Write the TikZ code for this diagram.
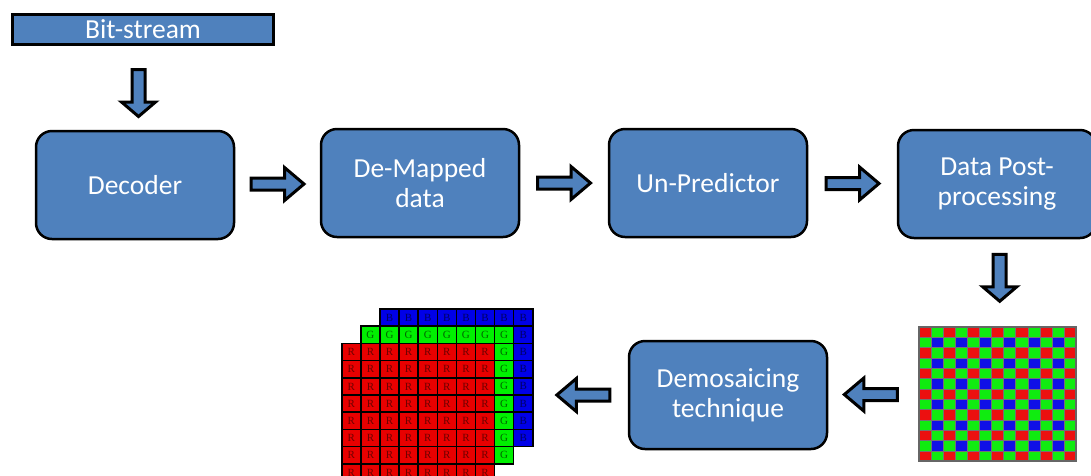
\documentclass[tikz,border=0pt]{standalone}
\usepackage{fontspec}
\setmainfont{Carlito}
\newfontfamily\cellfont{Liberation Serif}
\usetikzlibrary{calc}

\definecolor{boxblue}{RGB}{79,129,189}
% Bayer mosaic colours: 0 = red, 1/2 = green, 3 = blue
\definecolor{bayer0}{RGB}{236,16,16}
\definecolor{bayer1}{RGB}{16,236,16}
\definecolor{bayer2}{RGB}{16,236,16}
\definecolor{bayer3}{RGB}{16,16,230}
% colour planes after demosaicing
\definecolor{planeR}{RGB}{232,0,0}
\definecolor{planeG}{RGB}{0,240,0}
\definecolor{planeB}{RGB}{0,0,232}
\definecolor{letR}{RGB}{110,0,0}
\definecolor{letG}{RGB}{0,100,0}
\definecolor{letB}{RGB}{0,0,100}

\tikzset{
  stage/.style={draw=black, line width=2.5pt, fill=boxblue, rounded corners=16pt,
    minimum width=198pt, minimum height=108pt, text=white, align=center,
    font=\fontsize{27.5}{30.5}\selectfont, inner sep=0pt},
  source/.style={draw=black, line width=3.5pt, fill=boxblue, minimum width=261pt,
    minimum height=30pt, text=white, font=\fontsize{27.5}{29}\selectfont, inner sep=0pt},
  blockarrow/.style={draw=black, line width=3pt, fill=boxblue, line join=miter},
  rarrow/.pic={\draw[blockarrow] (-26.5,-6) -- (7,-6) -- (7,-16.5) -- (26.5,0)
      -- (7,16.5) -- (7,6) -- (-26.5,6) -- cycle;},
  darrow/.pic={\draw[blockarrow] (-6.5,-23.5) -- (6.5,-23.5) -- (6.5,9) -- (17,9)
      -- (0,23.5) -- (-17,9) -- (-6.5,9) -- (-6.5,-23.5) -- cycle;},
  cell/.style={draw=black, line width=1.5pt, minimum width=19.1pt, minimum height=17.2pt,
    inner sep=0pt, font=\cellfont\fontsize{11}{11}\selectfont},
  pixel/.style={draw=black!55, line width=0.4pt},
}

\begin{document}
\begin{tikzpicture}[x=1pt,y=-1pt]
\useasboundingbox (0,0) rectangle (1091,475);
\clip (0,0) rectangle (1091,475);
\fill[white] (0,0) rectangle (1091,475);

% processing stages
\node[source] (bits) at (143,29.5) {Bit-stream};
\node[stage] (dec)  at (135,185) {Decoder};
\node[stage] (dem)  at (420,183) {De-Mapped\\data};
\node[stage] (unp)  at (708,183) {Un-Predictor};
\node[stage] (post) at (997,184) {Data Post-\\processing};
\node[stage] (demo) at (728,395) {Demosaicing\\technique};

% Bayer colour filter array (13 x 13)
\node[minimum width=157pt, minimum height=134pt, inner sep=0pt] (bayer) at (997.5,394) {};
\foreach \i in {0,...,12}{
  \foreach \j in {0,...,12}{
    \pgfmathtruncatemacro\c{mod(\i,2)*2+mod(\j,2)}
    \fill[bayer\c, pixel] (919+\j*12.077,327+\i*10.308) rectangle ++(12.077,10.308);
  }
}
\draw[black!60, line width=1.6pt] (bayer.north west) rectangle (bayer.south east);

% full-colour planes: B behind, G in the middle, R in front
\node[minimum width=191pt, minimum height=172pt, inner sep=0pt] (stack) at (437.5,395) {};
\foreach \ch/\ox/\oy in {B/380/309, G/360.9/326.2, R/341.8/343.4}{
  \foreach \i in {0,...,7}{
    \foreach \j in {0,...,7}{
      \node[cell, fill=plane\ch, text=let\ch] (c\ch\i\j)
        at (\ox+\j*19.1+9.55, \oy+\i*17.2+8.6) {\ch};
    }
  }
}

% block arrows between the stages
\pic at ($(bits.south)!0.56!(dec.north)$) {darrow};
\pic at ($(dec.east)!0.5!(dem.west)$) {rarrow};
\pic at ($(dem.east)!0.5!(unp.west)$) {rarrow};
\pic at ($(unp.east)!0.5!(post.west)$) {rarrow};
\pic at ($(post.south)!0.44!(bayer.north)+(2.5,0)$) {darrow};
\pic[rotate=180] at ($(bayer.west)!0.53!(demo.east)$) {rarrow};
\pic[rotate=180] at ($(demo.west)!0.47!(stack.east)$) {rarrow};
\end{tikzpicture}
\end{document}
